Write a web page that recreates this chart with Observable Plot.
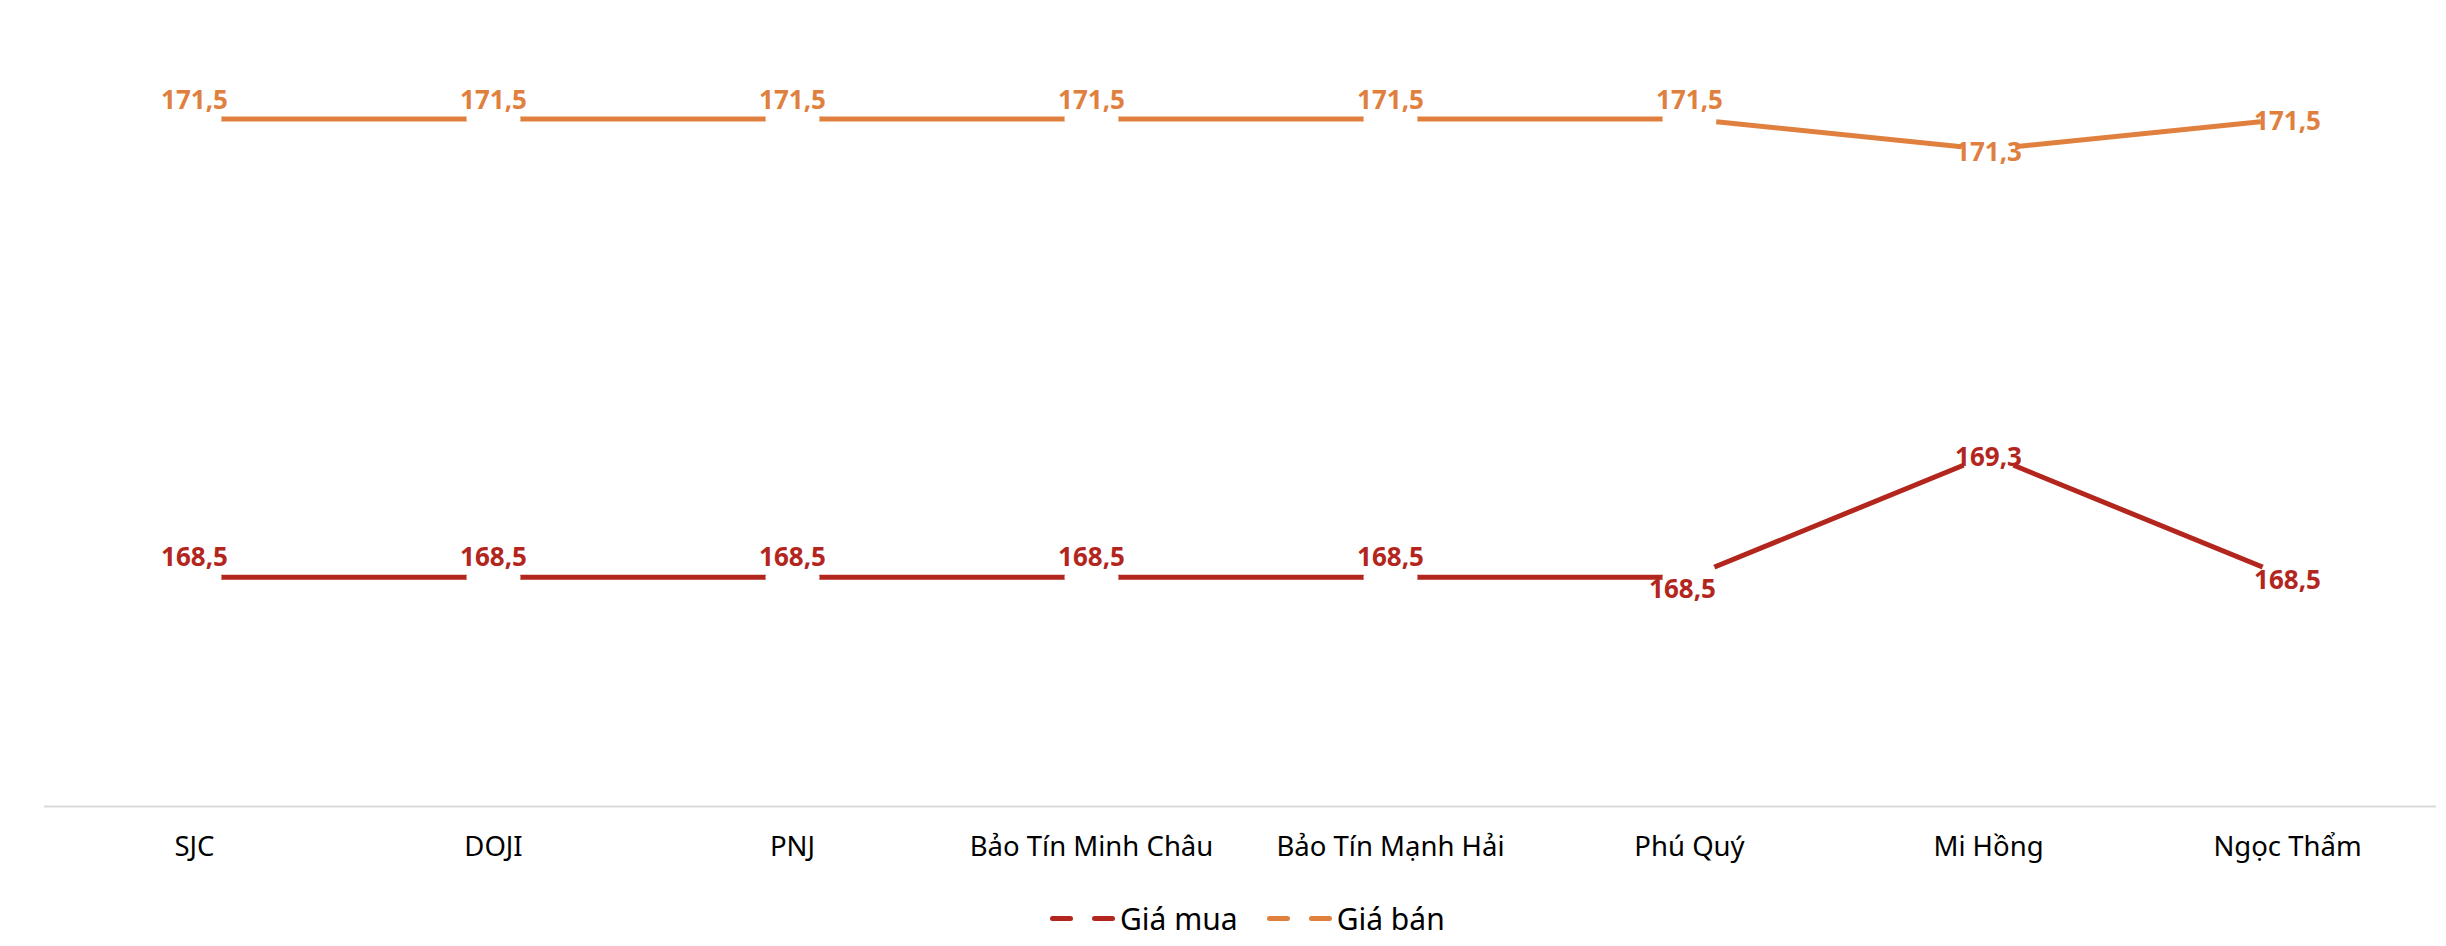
<!DOCTYPE html>
<html>
<head>
<meta charset="utf-8">
<script src="https://cdn.jsdelivr.net/npm/d3@7"></script>
<script src="https://cdn.jsdelivr.net/npm/@observablehq/plot@0.6"></script>
<style>
  html, body { margin: 0; padding: 0; background: #fff; }
  body { width: 2446px; height: 946px; overflow: hidden; font-family: "Noto Sans", "Open Sans", sans-serif; }
  #legend { position: relative; width: 2446px; height: 66px; }
  #legend .inner { position: absolute; left: 1050px; top: 38px; transform: translateY(-50%); display: flex; align-items: center; font-size: 30px; color: #000; }
  #legend .item { display: flex; align-items: center; }
  #legend .item + .item { margin-left: 29px; }
  #legend svg { margin-right: 5px; }
</style>
</head>
<body>
<div id="chart"></div>
<div id="legend"><div class="inner"></div></div>
<script>
const categories = ["SJC", "DOJI", "PNJ", "Bảo Tín Minh Châu", "Bảo Tín Mạnh Hải", "Phú Quý", "Mi Hồng", "Ngọc Thẩm"];
const giaMua = [168.5, 168.5, 168.5, 168.5, 168.5, 168.5, 169.3, 168.5];
const giaBan = [171.5, 171.5, 171.5, 171.5, 171.5, 171.5, 171.3, 171.5];
const seriesNames = ["Giá mua", "Giá bán"];
const seriesColors = ["#B3261E", "#E0803F"];

const rows = categories.flatMap((c, i) => [
  {cat: c, i, series: seriesNames[0], value: giaMua[i]},
  {cat: c, i, series: seriesNames[1], value: giaBan[i]}
]);
const fmt = v => d3.format(".1f")(v).replace(".", ",");
const mua = rows.filter(d => d.series === seriesNames[0]);
const ban = rows.filter(d => d.series === seriesNames[1]);
const labelStyle = {x: "cat", y: "value", text: d => fmt(d.value), fill: "series", fontWeight: "bold", fontSize: 26, lineAnchor: "middle"};

const chart = Plot.plot({
  width: 2446,
  height: 880,
  marginLeft: 44,
  marginRight: 10,
  marginTop: 42,
  marginBottom: 74,
  style: {fontFamily: "'Noto Sans', 'Open Sans', sans-serif", color: "#000", background: "#fff"},
  x: {type: "point", domain: categories, padding: 0.5},
  y: {domain: [167, 172], axis: null},
  color: {domain: seriesNames, range: seriesColors},
  marks: [
    Plot.ruleY([167], {stroke: "#d9d9d9", strokeWidth: 2}),
    Plot.axisX({tickSize: 0, tickPadding: 30, fontSize: 27.5, label: null, fill: "#000"}),
    Plot.lineY(rows, {x: "cat", y: "value", z: "series", stroke: "series", strokeWidth: 5, strokeLinecap: "butt", strokeLinejoin: "round"}),
    Plot.dot(rows, {x: "cat", y: "value", r: 27, fill: "white", stroke: null}),
    Plot.text(ban.filter(d => d.i < 6), {...labelStyle, dy: -18}),
    Plot.text(ban.filter(d => d.i >= 6), {...labelStyle, dy: 3}),
    Plot.text(mua.filter(d => d.i < 5), {...labelStyle, dy: -20}),
    Plot.text(mua.filter(d => d.i === 5), {...labelStyle, dy: 12, dx: -7}),
    Plot.text(mua.filter(d => d.i >= 6), {...labelStyle, dy: 3})
  ]
});
document.getElementById("chart").appendChild(chart);

const inner = d3.select("#legend .inner");
seriesNames.forEach((name, k) => {
  const item = inner.append("div").attr("class", "item");
  const svg = item.append("svg").attr("width", 65).attr("height", 10);
  svg.append("line").attr("x1", 2.5).attr("x2", 62.5).attr("y1", 5).attr("y2", 5)
    .attr("stroke", seriesColors[k]).attr("stroke-width", 5)
    .attr("stroke-linecap", "round").attr("stroke-dasharray", "18 24");
  item.append("span").text(name);
});
</script>
</body>
</html>
